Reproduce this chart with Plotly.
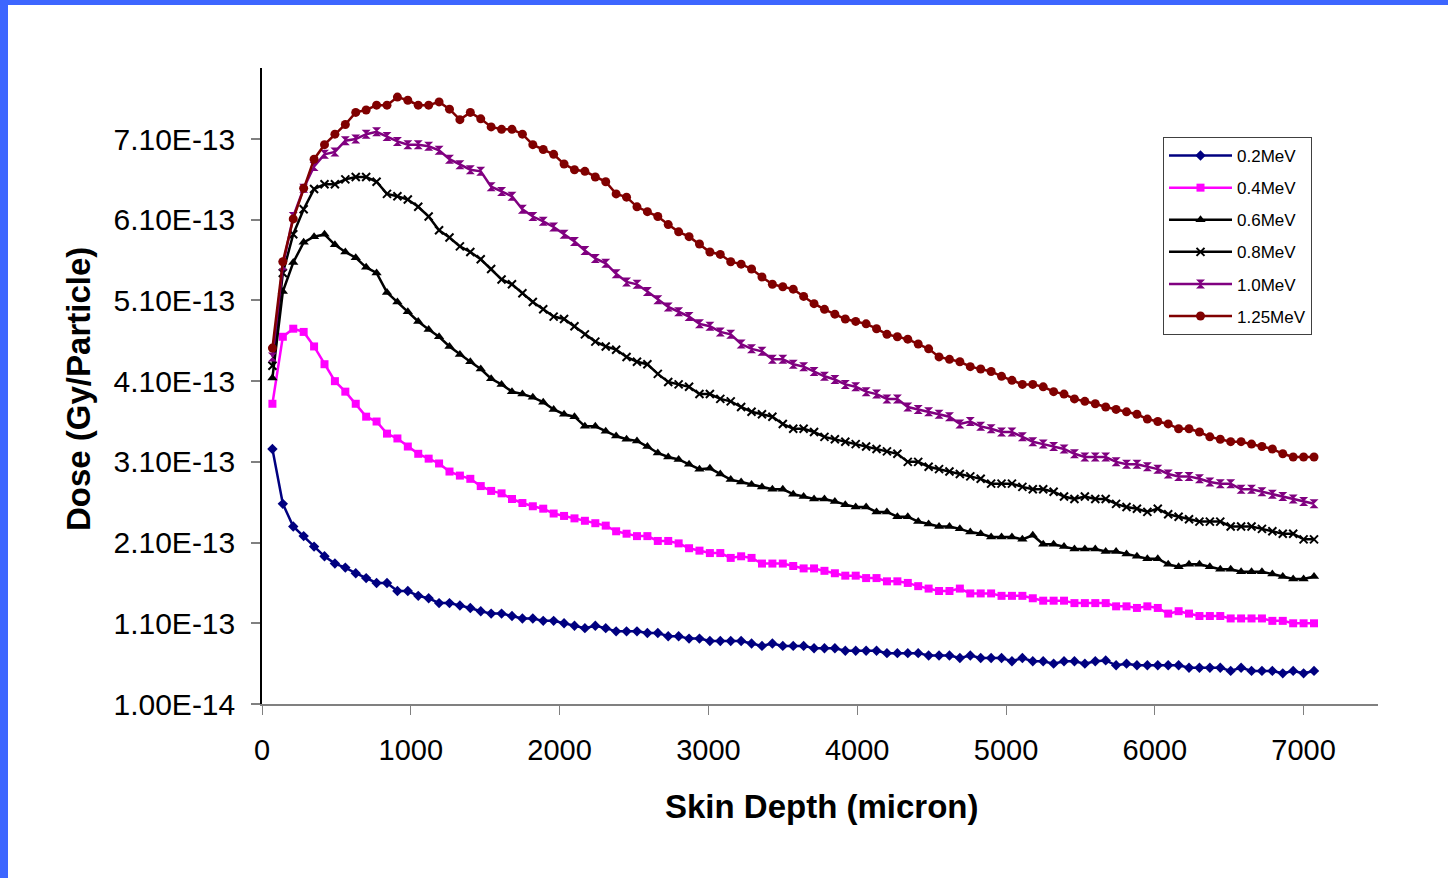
import plotly.graph_objects as go

# Skin depth (micron): one sample every 70 micron
depth = list(range(70, 7071, 70))

# Dose values in units of 1E-13 Gy/Particle
dose_02 = [3.26, 2.58, 2.30, 2.18, 2.05, 1.93, 1.84, 1.79, 1.72, 1.66,
           1.60, 1.60, 1.50, 1.50, 1.44, 1.41, 1.35, 1.35, 1.32, 1.29,
           1.25, 1.22, 1.22, 1.19, 1.16, 1.16, 1.13, 1.13, 1.10, 1.07,
           1.04, 1.07, 1.04, 1.00, 1.00, 1.00, 0.98, 0.98, 0.94, 0.94,
           0.91, 0.91, 0.88, 0.88, 0.88, 0.88, 0.85, 0.82, 0.85, 0.82,
           0.82, 0.82, 0.79, 0.79, 0.79, 0.76, 0.76, 0.76, 0.76, 0.73,
           0.73, 0.73, 0.73, 0.70, 0.70, 0.70, 0.67, 0.70, 0.67, 0.67,
           0.67, 0.63, 0.67, 0.63, 0.63, 0.60, 0.63, 0.63, 0.60, 0.63,
           0.64, 0.58, 0.60, 0.58, 0.58, 0.58, 0.58, 0.58, 0.55, 0.55,
           0.55, 0.55, 0.51, 0.55, 0.51, 0.51, 0.51, 0.48, 0.51, 0.48, 0.51]

dose_04 = [3.82, 4.65, 4.75, 4.71, 4.53, 4.31, 4.10, 3.97, 3.82, 3.66,
           3.60, 3.45, 3.39, 3.29, 3.20, 3.14, 3.08, 2.98, 2.93, 2.89,
           2.80, 2.74, 2.71, 2.64, 2.59, 2.55, 2.52, 2.46, 2.43, 2.40,
           2.37, 2.34, 2.31, 2.24, 2.21, 2.18, 2.18, 2.12, 2.12, 2.09,
           2.03, 2.00, 1.97, 1.97, 1.91, 1.93, 1.91, 1.84, 1.84, 1.84,
           1.81, 1.78, 1.78, 1.75, 1.72, 1.69, 1.69, 1.66, 1.66, 1.62,
           1.62, 1.60, 1.56, 1.53, 1.50, 1.50, 1.53, 1.47, 1.47, 1.47,
           1.44, 1.44, 1.44, 1.41, 1.38, 1.38, 1.38, 1.35, 1.35, 1.35,
           1.35, 1.31, 1.31, 1.29, 1.31, 1.29, 1.22, 1.25, 1.22, 1.19,
           1.19, 1.19, 1.16, 1.16, 1.16, 1.16, 1.13, 1.13, 1.10, 1.10, 1.10]

dose_06 = [4.14, 5.21, 5.57, 5.82, 5.89, 5.92, 5.79, 5.70, 5.63, 5.51,
           5.44, 5.20, 5.08, 4.96, 4.84, 4.74, 4.65, 4.53, 4.43, 4.34,
           4.25, 4.13, 4.06, 3.97, 3.94, 3.90, 3.84, 3.75, 3.69, 3.66,
           3.54, 3.54, 3.48, 3.42, 3.38, 3.36, 3.29, 3.21, 3.16, 3.13,
           3.07, 3.01, 3.02, 2.95, 2.88, 2.85, 2.82, 2.79, 2.76, 2.76,
           2.70, 2.67, 2.64, 2.64, 2.61, 2.57, 2.54, 2.54, 2.48, 2.48,
           2.42, 2.42, 2.36, 2.33, 2.30, 2.30, 2.27, 2.23, 2.21, 2.17,
           2.17, 2.17, 2.14, 2.19, 2.08, 2.08, 2.05, 2.02, 2.02, 2.02,
           1.99, 1.99, 1.96, 1.93, 1.90, 1.90, 1.83, 1.80, 1.83, 1.83,
           1.80, 1.77, 1.77, 1.74, 1.74, 1.74, 1.71, 1.68, 1.65, 1.65, 1.68]

dose_08 = [4.29, 5.44, 5.92, 6.23, 6.48, 6.54, 6.54, 6.60, 6.63, 6.63,
           6.57, 6.42, 6.39, 6.35, 6.26, 6.14, 5.97, 5.88, 5.77, 5.70,
           5.61, 5.49, 5.36, 5.30, 5.19, 5.08, 4.99, 4.90, 4.87, 4.78,
           4.68, 4.59, 4.53, 4.49, 4.40, 4.34, 4.31, 4.19, 4.09, 4.06,
           4.03, 3.94, 3.94, 3.88, 3.85, 3.78, 3.72, 3.69, 3.66, 3.57,
           3.51, 3.51, 3.47, 3.41, 3.38, 3.35, 3.32, 3.29, 3.26, 3.23,
           3.20, 3.10, 3.10, 3.04, 3.01, 2.98, 2.95, 2.92, 2.89, 2.83,
           2.83, 2.83, 2.79, 2.76, 2.76, 2.73, 2.67, 2.64, 2.67, 2.64,
           2.64, 2.58, 2.54, 2.52, 2.48, 2.52, 2.45, 2.42, 2.39, 2.36,
           2.36, 2.36, 2.30, 2.30, 2.30, 2.27, 2.24, 2.21, 2.21, 2.14, 2.14]

dose_10 = [4.40, 5.53, 6.14, 6.49, 6.76, 6.91, 6.94, 7.08, 7.10, 7.16,
           7.19, 7.13, 7.07, 7.03, 7.03, 7.01, 6.96, 6.85, 6.78, 6.72,
           6.70, 6.51, 6.45, 6.39, 6.23, 6.14, 6.08, 6.01, 5.92, 5.83,
           5.72, 5.62, 5.56, 5.43, 5.33, 5.30, 5.21, 5.11, 5.02, 4.96,
           4.90, 4.81, 4.78, 4.71, 4.68, 4.56, 4.50, 4.47, 4.37, 4.37,
           4.31, 4.28, 4.22, 4.16, 4.12, 4.06, 4.03, 3.97, 3.94, 3.88,
           3.88, 3.78, 3.75, 3.72, 3.69, 3.66, 3.57, 3.60, 3.54, 3.51,
           3.47, 3.47, 3.41, 3.35, 3.32, 3.29, 3.26, 3.20, 3.16, 3.16,
           3.16, 3.10, 3.07, 3.07, 3.04, 3.01, 2.95, 2.92, 2.92, 2.89,
           2.85, 2.83, 2.83, 2.76, 2.76, 2.73, 2.70, 2.67, 2.64, 2.61, 2.58]

dose_125 = [4.51, 5.58, 6.11, 6.49, 6.85, 7.03, 7.16, 7.28, 7.43, 7.46,
            7.52, 7.52, 7.62, 7.58, 7.52, 7.52, 7.56, 7.47, 7.34, 7.43,
            7.35, 7.25, 7.22, 7.22, 7.16, 7.03, 6.97, 6.91, 6.79, 6.72,
            6.70, 6.63, 6.57, 6.42, 6.38, 6.26, 6.20, 6.14, 6.04, 5.95,
            5.89, 5.80, 5.70, 5.67, 5.58, 5.55, 5.49, 5.39, 5.30, 5.27,
            5.24, 5.15, 5.06, 4.99, 4.93, 4.87, 4.84, 4.81, 4.75, 4.68,
            4.65, 4.62, 4.56, 4.50, 4.40, 4.37, 4.34, 4.28, 4.25, 4.22,
            4.16, 4.11, 4.06, 4.06, 4.03, 3.97, 3.94, 3.88, 3.85, 3.82,
            3.78, 3.75, 3.72, 3.69, 3.63, 3.60, 3.57, 3.51, 3.51, 3.47,
            3.41, 3.38, 3.35, 3.35, 3.32, 3.29, 3.26, 3.20, 3.16, 3.16, 3.16]

series_names = ["0.2MeV", "0.4MeV", "0.6MeV", "0.8MeV", "1.0MeV", "1.25MeV"]
series_values = [dose_02, dose_04, dose_06, dose_08, dose_10, dose_125]

y_tick_values = [0.1, 1.1, 2.1, 3.1, 4.1, 5.1, 6.1, 7.1]   # in 1E-13
y_tick_labels = ["1.00E-14", "1.10E-13", "2.10E-13", "3.10E-13",
                 "4.10E-13", "5.10E-13", "6.10E-13", "7.10E-13"]
x_tick_values = [0, 1000, 2000, 3000, 4000, 5000, 6000, 7000]

SCALE = 1e-13

styles = [
    dict(color="#000080", symbol="diamond", size=8),
    dict(color="#FF00FF", symbol="square", size=8),
    dict(color="#000000", symbol="triangle-up", size=9),
    dict(color="#000000", symbol="x-thin", size=8),
    dict(color="#800080", symbol="hourglass", size=9),
    dict(color="#800000", symbol="circle", size=9),
]

FONT = "Liberation Sans, Arial, sans-serif"

fig = go.Figure()
for i, (name, vals) in enumerate(zip(series_names, series_values)):
    st = styles[i]
    marker = dict(symbol=st["symbol"], size=st["size"], color=st["color"],
                  line=dict(color=st["color"], width=2 if st["symbol"] == "x-thin" else 0))
    fig.add_trace(go.Scatter(
        x=depth, y=[v * SCALE for v in vals], mode="lines+markers", name=name,
        line=dict(color=st["color"], width=2.5), marker=marker,
        legendgroup=name,
    ))

# plot area in pixels: x 262..1378, y 68..704
L, R, T, B = 262, 1378, 68, 704
W, H = 1448, 878

def px(xp):
    return (xp - L) / (R - L)

def py(yp):
    return (B - yp) / (B - T)

blue = "#3D66FF"
shapes = [
    dict(type="rect", xref="paper", yref="paper", x0=px(-2), x1=px(W + 2), y0=py(5), y1=py(-2),
         fillcolor=blue, line=dict(width=0), layer="above"),
    dict(type="rect", xref="paper", yref="paper", x0=px(-2), x1=px(8), y0=py(H + 2), y1=py(-2),
         fillcolor=blue, line=dict(width=0), layer="above"),
]

annotations = [
    dict(text="<b>Dose (Gy/Particle)</b>", xref="paper", yref="paper",
         x=px(78), y=py(389), textangle=-90, showarrow=False,
         font=dict(family=FONT, size=33, color="black"), xanchor="center", yanchor="middle"),
    dict(text="<b>Skin Depth (micron)</b>", xref="paper", yref="paper",
         x=px(822), y=py(806), showarrow=False,
         font=dict(family=FONT, size=33, color="black"), xanchor="center", yanchor="middle"),
]

fig.update_layout(
    width=W, height=H,
    margin=dict(l=L, r=W - R, t=T, b=H - B, pad=0),
    paper_bgcolor="white", plot_bgcolor="white",
    font=dict(family=FONT, color="black"),
    showlegend=True,
    legend=dict(x=px(1163), y=py(137), xanchor="left", yanchor="top",
                bgcolor="white", bordercolor="#404040", borderwidth=1,
                font=dict(family=FONT, size=17, color="black"),
                tracegroupgap=7, itemwidth=63),
    shapes=shapes,
    annotations=annotations,
)

fig.update_xaxes(
    range=[0, 7500], tickvals=x_tick_values, ticktext=[str(v) for v in x_tick_values],
    showgrid=False, zeroline=False, showline=True, linecolor="#808080", linewidth=1.5,
    ticks="outside", ticklen=9, tickcolor="#808080", tickwidth=1,
    tickfont=dict(family=FONT, size=29, color="black"), ticklabelstandoff=10,
)
fig.update_yaxes(
    range=[0.1 * SCALE, 7.98 * SCALE], tickvals=[v * SCALE for v in y_tick_values], ticktext=y_tick_labels,
    showgrid=False, zeroline=False, showline=True, linecolor="black", linewidth=1.5,
    ticks="outside", ticklen=9, tickcolor="#808080", tickwidth=1.5,
    tickfont=dict(family=FONT, size=30, color="black"), ticklabelstandoff=10,
)

fig.write_html("out.html", config={"displayModeBar": False},
               post_script="document.body.style.margin='0';document.body.style.overflow='hidden';")
